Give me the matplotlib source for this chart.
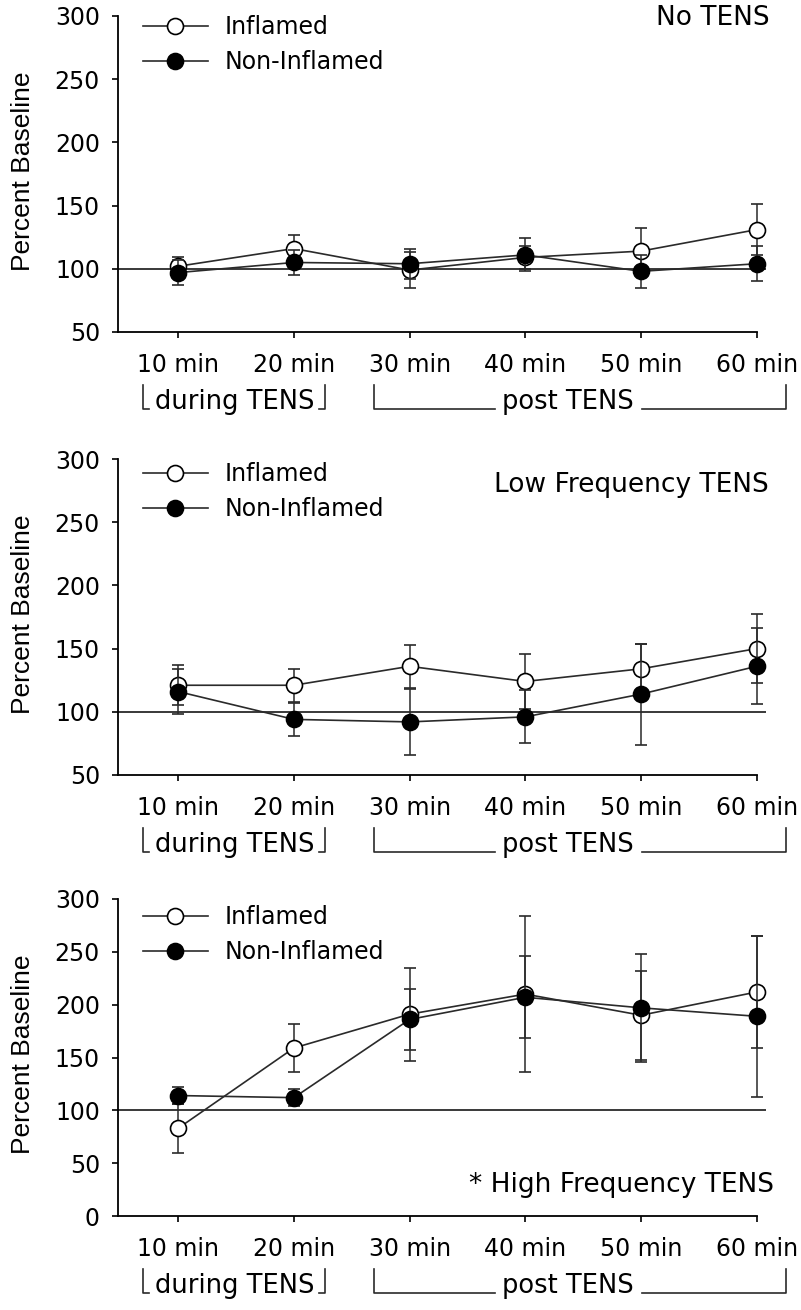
import matplotlib
matplotlib.use("Agg")
import matplotlib.pyplot as plt
from matplotlib.lines import Line2D

plt.rcParams['font.family'] = ['DejaVu Sans']

labels = ['10 min', '20 min', '30 min', '40 min', '50 min', '60 min']

no_inf = [102, 116, 99, 109, 114, 131]
no_inf_err = [7, 11, 14, 9, 18, 20]
no_non = [97, 105, 104, 111, 98, 104]
no_non_err = [10, 10, 12, 13, 13, 14]

low_inf = [121, 121, 136, 124, 134, 150]
low_inf_err = [16, 13, 17, 22, 20, 27]
low_non = [116, 94, 92, 96, 114, 136]
low_non_err = [18, 13, 26, 21, 40, 30]

high_inf = [83, 159, 191, 210, 190, 212]
high_inf_err = [23, 23, 44, 74, 42, 53]
high_non = [114, 112, 186, 207, 197, 189]
high_non_err = [8, 8, 29, 39, 51, 76]

titles = ['No TENS', 'Low Frequency TENS', '* High Frequency TENS']

W, H = 801, 1310
fig = plt.figure(figsize=(W / 100, H / 100), dpi=100)

# (top px, bottom px, ymin, ..., title position key, legend offset px)
panels = [
    (16, 332, 50, no_inf, no_inf_err, no_non, no_non_err, titles[0], 'top', 8),
    (459, 775, 50, low_inf, low_inf_err, low_non, low_non_err, titles[1], 'top2', 12),
    (899, 1216, 0, high_inf, high_inf_err, high_non, high_non_err, titles[2], 'bottom', 15),
]

left_px, right_px = 118, 766
x = list(range(len(labels)))
lc = '#2a2a2a'
fs = 17
ms = 11.5

for top, bot, ymin, inf, inf_e, non, non_e, title, tpos, loff in panels:
    hpx = bot - top
    ax = fig.add_axes([left_px / W, 1 - bot / H, (right_px - left_px) / W, hpx / H])
    ax.set_xlim(-0.52, 5.08)
    ax.set_ylim(ymin, 300)
    ax.axhline(100, color=lc, lw=1.3, zorder=1)
    ax.errorbar(x, inf, yerr=inf_e, color=lc, lw=1.2, elinewidth=1.1, capsize=4,
                capthick=1.1, marker='o', ms=ms, mfc='white', mec='black', mew=1.2, zorder=3)
    ax.errorbar(x, non, yerr=non_e, color=lc, lw=1.2, elinewidth=1.1, capsize=4,
                capthick=1.1, marker='o', ms=ms, mfc='black', mec='black', mew=1.2, zorder=4)
    for s in ['top', 'right']:
        ax.spines[s].set_visible(False)
    ax.spines['bottom'].set_bounds(-0.52, 5)
    ax.spines['left'].set_linewidth(1.3)
    ax.spines['bottom'].set_linewidth(1.3)
    ax.set_yticks(list(range(ymin, 301, 50)))
    ax.set_xticks(x)
    ax.set_xticklabels(labels)
    ax.tick_params(axis='both', labelsize=fs, length=4, width=1.2, direction='out')
    ax.tick_params(axis='x', pad=11)
    ax.tick_params(axis='y', pad=9)
    ax.set_ylabel('Percent Baseline', fontsize=19, family=['Liberation Sans', 'DejaVu Sans'],
                  va='center')
    ax.yaxis.set_label_coords(-0.147, 0.51)

    h_inf = Line2D([], [], color=lc, lw=1.2, marker='o', ms=ms, mfc='white', mec='black', mew=1.2)
    h_non = Line2D([], [], color=lc, lw=1.2, marker='o', ms=ms, mfc='black', mec='black', mew=1.2)
    ax.legend([h_inf, h_non], ['Inflamed', 'Non-Inflamed'], loc='upper left',
              bbox_to_anchor=(0.024, 1 + (16 - 8.6 - (loff - 11)) / hpx), frameon=False, fontsize=fs,
              handlelength=2.75, handletextpad=0.7, labelspacing=0.46, borderaxespad=0)

    tfs = 19
    if tpos == 'top':
        ax.text(1.005, 1 - 2 / hpx, title, transform=ax.transAxes, ha='right', va='center', fontsize=tfs)
    elif tpos == 'top2':
        ax.text(1.005, 1 - 26 / hpx, title, transform=ax.transAxes, ha='right', va='center', fontsize=tfs)
    else:
        ax.text(1.012, 31 / hpx, title, transform=ax.transAxes, ha='right', va='center', fontsize=tfs)

    # brackets under the tick labels
    tr = ax.get_xaxis_transform()
    y_top = -53 / hpx
    y_bot = -77 / hpx
    y_txt = -70 / hpx
    kw = dict(color=lc, lw=1.2, transform=tr, clip_on=False)
    ax.add_line(Line2D([-0.30, -0.30, -0.25], [y_top, y_bot, y_bot], **kw))
    ax.add_line(Line2D([1.27, 1.27, 1.22], [y_top, y_bot, y_bot], **kw))
    ax.text(0.485, y_txt, 'during TENS', transform=tr, ha='center', va='center', fontsize=18.5)
    ax.add_line(Line2D([1.69, 1.69, 2.74], [y_top, y_bot, y_bot], **kw))
    ax.add_line(Line2D([4.01, 5.25, 5.25], [y_bot, y_bot, y_top], **kw))
    ax.text(3.37, y_txt, 'post TENS', transform=tr, ha='center', va='center', fontsize=18.5)

fig.savefig('out.png', dpi=100)
